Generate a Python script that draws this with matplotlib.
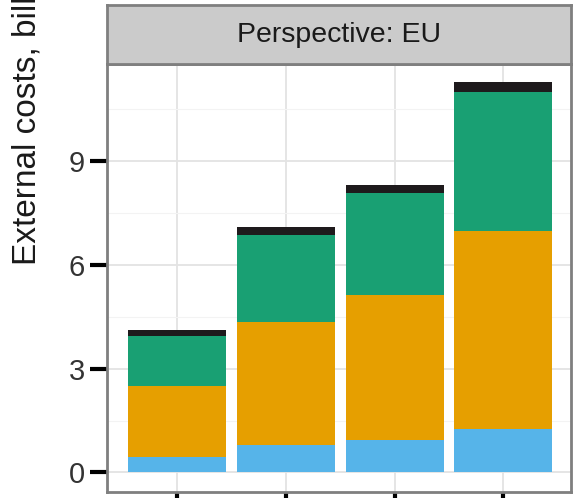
import matplotlib.pyplot as plt
import numpy as np

plt.rcParams['font.family'] = ['Liberation Sans', 'DejaVu Sans']

# four scenarios (x labels are cut off in the reference)
categories = ["1", "2", "3", "4"]

# stacked components, bottom to top, bil. EUR
blue_part = [0.46, 0.78, 0.93, 1.26]
orange_part = [2.03, 3.58, 4.20, 5.71]
green_part = [1.44, 2.51, 2.94, 4.03]
black_part = [0.19, 0.22, 0.24, 0.29]

series = [blue_part, orange_part, green_part, black_part]
colours = ["#56B4E9", "#E69F00", "#19A073", "#1E1A1C"]

yticks = [0, 3, 6, 9]

fig = plt.figure(figsize=(5.78, 4.98), dpi=100)
ax = fig.add_axes([107 / 578, 6 / 498, 464 / 578, 428 / 498])
strip = fig.add_axes([107 / 578, 434 / 498, 464 / 578, 59 / 498])

x = np.arange(1, len(categories) + 1)
bottom = np.zeros(len(categories))
for vals, col in zip(series, colours):
    ax.bar(x, vals, width=0.9, bottom=bottom, color=col, zorder=3)
    bottom = bottom + np.array(vals)

top = bottom.max()
ax.set_ylim(-0.05 * top, top * 1.045)
ax.set_xlim(0.36, 4.62)

ax.set_yticks(yticks)
ax.set_yticks([1.5, 4.5, 7.5, 10.5], minor=True)
ax.set_xticks(x)
ax.set_xticklabels(["" for c in categories])
ax.grid(which="major", color="#E3E3E3", linewidth=1.3, zorder=0)
ax.grid(which="minor", axis="y", color="#F3F3F3", linewidth=0.8, zorder=0)
ax.tick_params(which="major", length=12, width=3, color="black",
               labelsize=21, pad=4, labelcolor="#333333")
ax.tick_params(which="minor", length=0)
for sp in ax.spines.values():
    sp.set_color("#7F7F7F")
    sp.set_linewidth(2)

strip.set_facecolor("#CBCBCB")
strip.set_xticks([])
strip.set_yticks([])
for sp in strip.spines.values():
    sp.set_color("#7F7F7F")
    sp.set_linewidth(2)
strip.text(0.5, 0.5, "Perspective: EU", ha="center", va="center",
           fontsize=20.5, color="#1A1A1A", transform=strip.transAxes)

fig.text(27 / 578, (498 - 265) / 498, "External costs, billion EUR",
         rotation=90, ha="center", va="bottom", fontsize=24, color="#1A1A1A")

fig.savefig("out.png", dpi=100)
